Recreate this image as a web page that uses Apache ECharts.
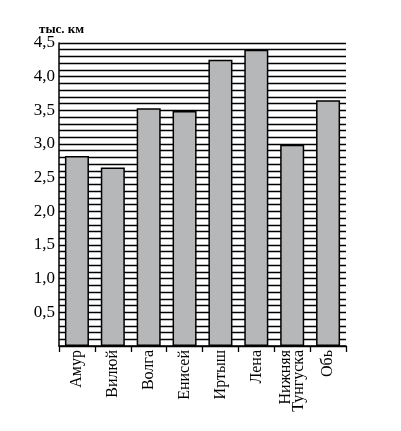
<!DOCTYPE html>
<html><head><meta charset="utf-8">
<script src="https://cdn.jsdelivr.net/npm/echarts@6/dist/echarts.min.js"></script>
<style>html,body{margin:0;padding:0;background:#fff}#c{width:401px;height:431px}</style>
</head><body><div id="c"></div>
<script>
var categories = ['Амур', 'Вилюй', 'Волга', 'Енисей', 'Иртыш', 'Лена', 'Нижняя\nТунгуска', 'Обь'];
var lengths = [2.82, 2.65, 3.53, 3.49, 4.25, 4.40, 2.99, 3.65];
var unitLabel = 'тыс. км';

var chart = echarts.init(document.getElementById('c'));
var serif = '"Liberation Serif", "DejaVu Serif", serif';
chart.setOption({
  animation: false,
  backgroundColor: '#fff',
  title: {
    text: unitLabel, left: 34, top: 18,
    textStyle: { fontFamily: serif, fontSize: 13, fontWeight: 'bold', color: '#000' }
  },
  grid: { left: 59, right: 55, top: 43, bottom: 85 },
  xAxis: {
    type: 'category', data: categories,
    axisLine: { lineStyle: { color: '#000', width: 1.5 } },
    axisTick: { show: true, length: 6, lineStyle: { color: '#000', width: 1.3 } },
    axisLabel: { rotate: 90, margin: 4, fontFamily: serif, fontSize: 16, color: '#000', lineHeight: 13 },
    splitLine: { show: false }
  },
  yAxis: {
    type: 'value', min: 0, max: 4.5, interval: 0.1,
    axisLine: { show: true, lineStyle: { color: '#000', width: 1.5 } },
    axisTick: { show: false },
    axisLabel: {
      margin: 4, fontFamily: serif, fontSize: 17, color: '#000',
      formatter: function (v) {
        var r = Math.round(v * 10);
        if (r === 0 || r % 5 !== 0) return '';
        return (r / 10).toFixed(1).replace('.', ',');
      }
    },
    splitLine: { show: true, lineStyle: { color: '#000', width: 1.3 } }
  },
  series: [{
    type: 'bar', data: lengths, barCategoryGap: '33%',
    itemStyle: { color: '#b6b7b9', borderColor: '#000', borderWidth: 1.5 }
  }]
});
</script></body></html>
